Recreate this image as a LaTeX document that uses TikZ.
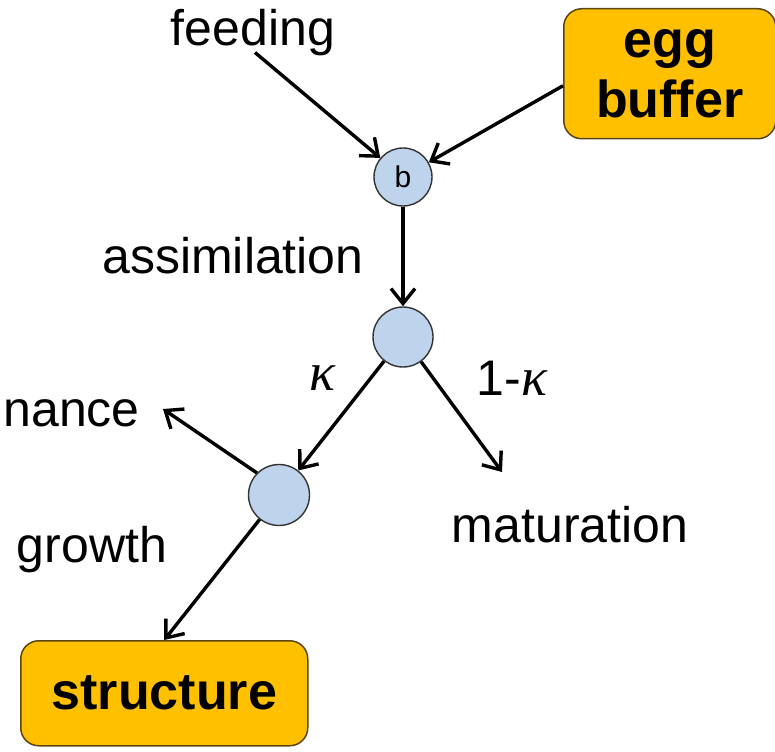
\documentclass[tikz,border=0pt]{standalone}
\usepackage{fontspec}
\setmainfont{Liberation Sans}
\newfontfamily\kapfont{Liberation Serif}
\usetikzlibrary{arrows.meta}
\definecolor{poolblue}{RGB}{190,211,236}
\definecolor{boxorange}{RGB}{255,192,0}
\definecolor{boxline}{RGB}{90,70,20}
\newcommand{\kap}{{\kapfont\itshape\fontsize{54}{56}\selectfont κ}}
\tikzset{
  pool/.style={circle, draw=black!80, line width=1.4pt, fill=poolblue, minimum size=58pt, inner sep=0pt},
  bigpool/.style={pool, minimum size=61pt},
  statebox/.style={draw=boxline, line width=1.5pt, fill=boxorange, rounded corners=18pt, font=\fontsize{52}{60}\selectfont\bfseries, align=center},
  lbl/.style={font=\fontsize{50}{56}\selectfont, inner sep=0pt},
  arr/.style={line width=3.4pt, -{Straight Barb[length=15pt, width=24pt, line width=3.4pt]}}
}
\begin{document}
\begin{tikzpicture}[x=1pt,y=-1pt]
\useasboundingbox (0,0) rectangle (775,751);
\node[pool, font=\fontsize{30}{32}\selectfont] (b) at (403,177) {b};
\node[pool, minimum size=60pt] (c2) at (403,337) {};
\node[bigpool] (c3) at (279,495) {};
\node[lbl] (feeding) at (253,33) {feeding};
\node[statebox, minimum width=212pt, minimum height=130pt, anchor=north west, inner sep=0pt] (egg) at (563,8) {egg\\buffer};
\node[statebox, minimum width=287pt, minimum height=105pt, anchor=north west] (structure) at (20,640) {structure};
\node[lbl] (assim) at (233,256) {assimilation};
\node[lbl] (kappa) at (322,378) {\kap};
\node[lbl] (onemk) at (512,378) {1-\kap};
\node[lbl, anchor=east] (nance) at (140,413) {nance};
\node[lbl] (mat) at (570,525) {maturation};
\node[lbl] (growth) at (92,550) {growth};
\coordinate (nanceend) at (163,409);
\coordinate (matend) at (502,472);
\draw[arr] ([xshift=2pt,yshift=4pt]feeding.south) -- (b);
\draw[arr] ([yshift=-12pt]egg.west) -- (b);
\draw[arr] (b) -- (c2);
\draw[arr] (c2) -- (c3);
\draw[arr] (c2) -- (matend);
\draw[arr] (c3.135) -- (nanceend);
\draw[arr] (c3) -- (structure.north);
\end{tikzpicture}
\end{document}
